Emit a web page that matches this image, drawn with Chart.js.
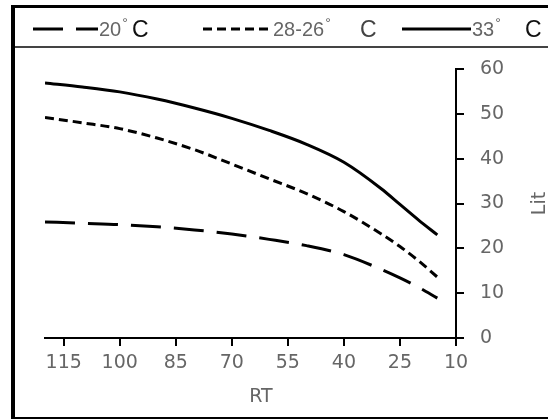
<!DOCTYPE html>
<html><head><meta charset="utf-8">
<script src="https://cdn.jsdelivr.net/npm/chart.js@4"></script>
<style>html,body{margin:0;padding:0;background:#fff;}#wrap{width:548px;height:419px;}</style>
</head><body><div id="wrap"><canvas id="c" width="548" height="419"></canvas></div>
<script>
// ---- data ----
const rtValues = [120,110,100,90,80,70,60,50,40,30,25,20,15];
const series20 = [25.9,25.6,25.3,24.8,24.1,23.2,22.0,20.6,18.6,15.3,13.4,11.3,8.9];
const series28 = [49.2,48.0,46.7,44.6,42.0,38.8,35.5,32.2,28.2,23.2,20.4,17.2,13.6];
const series33 = [56.9,56.0,54.9,53.3,51.3,49.0,46.3,43.2,39.2,33.3,29.8,26.3,23.0];
const seriesLabels = ['20° C','28-26° C','33° C'];
const xTicks = [115,100,85,70,55,40,25,10];
const yTicks = [0,10,20,30,40,50,60];
const xTitle = 'RT';
const yTitle = 'Lit';

// ---- styles ----
const dashes = [[30,13],[9,5],[]];
const legendLayout = [
  {l0:33, l1:98, nx:99, cx:132, cColor:'#111'},
  {l0:203, l1:271, nx:273, cx:360, cColor:'#444'},
  {l0:402, l1:471, nx:472, cx:525, cColor:'#111'}
];
const gray = '#666';

const toPts = arr => arr.map((v,i)=>({x:rtValues[i], y:v}));
const seriesData = [series20, series28, series33];

const framePlugin = {
  id:'frame',
  beforeDraw(chart){
    const c = chart.ctx; c.save(); c.fillStyle='#fff'; c.fillRect(0,0,chart.width,chart.height); c.restore();
  },
  afterDraw(chart){
    const c = chart.ctx;
    c.save();
    c.fillStyle='#000';
    c.fillRect(11,5,537,3);
    c.fillRect(11,5,4,414);
    c.fillRect(11,417,537,2);
    c.fillStyle='#444';
    c.fillRect(15,46,533,2);
    // legend
    chart.data.datasets.forEach((ds,i)=>{
      const L = legendLayout[i];
      const y = 29;
      c.strokeStyle='#000'; c.lineWidth=3; c.lineCap='butt';
      c.setLineDash(ds.borderDash||[]);
      c.beginPath(); c.moveTo(L.l0,y); c.lineTo(L.l1,y); c.stroke();
      c.setLineDash([]);
      const parts = ds.label.split('°');
      c.textBaseline='alphabetic'; c.textAlign='left';
      c.fillStyle=gray; c.font="20px 'Liberation Sans', Arial, sans-serif";
      c.fillText(parts[0], L.nx, 36);
      const w = c.measureText(parts[0]).width;
      c.font="14px 'Liberation Sans', Arial, sans-serif";
      c.fillText('°', L.nx + w + 1, 28);
      c.fillStyle=L.cColor; c.font="23px 'Liberation Sans', Arial, sans-serif";
      c.fillText(parts[1].trim(), L.cx, 37);
    });
    // x title
    c.textAlign='center'; c.textBaseline='middle';
    c.fillStyle=gray; c.font="19px 'DejaVu Sans', sans-serif";
    c.fillText(xTitle, 261, 397);
    // y title rotated
    const yc = (chart.chartArea.top + chart.chartArea.bottom)/2;
    c.translate(540, yc);
    c.rotate(-Math.PI/2);
    c.fillText(yTitle,0,0);
    c.restore();
  }
};

new Chart(document.getElementById('c'), {
  type:'line',
  data:{
    datasets: seriesData.map((s,i)=>({
      label: seriesLabels[i],
      data: toPts(s),
      borderColor:'#000',
      borderWidth:3,
      borderDash: dashes[i],
      borderCapStyle:'butt',
      pointRadius:0,
      fill:false,
      cubicInterpolationMode:'monotone'
    }))
  },
  options:{
    responsive:false,
    animation:false,
    devicePixelRatio:1,
    layout:{padding:{left:45, top:69, right:0, bottom:0}},
    plugins:{legend:{display:false}, tooltip:{enabled:false}},
    scales:{
      x:{
        type:'linear', reverse:true, min:10, max:120,
        afterBuildTicks: s => { s.ticks = xTicks.map(v=>({value:v})); },
        afterFit: s => { s.height = 81; },
        grid:{display:true, drawOnChartArea:false, drawTicks:true, tickLength:8, color:'#000', lineWidth:2},
        border:{display:true, color:'#000', width:2},
        ticks:{padding:6, color:gray, font:{family:"'DejaVu Sans', sans-serif", size:19}, maxRotation:0, autoSkip:false},
        title:{display:false, text:xTitle}
      },
      y:{
        type:'linear', position:'right', min:0, max:60,
        afterBuildTicks: s => { s.ticks = yTicks.map(v=>({value:v})); },
        afterFit: s => { s.width = 92; },
        grid:{display:true, drawOnChartArea:false, drawTicks:true, tickLength:8, color:'#000', lineWidth:2},
        border:{display:true, color:'#000', width:2},
        ticks:{padding:16, color:gray, font:{family:"'DejaVu Sans', sans-serif", size:19}}
      }
    }
  },
  plugins:[framePlugin]
});
</script>
</body></html>
